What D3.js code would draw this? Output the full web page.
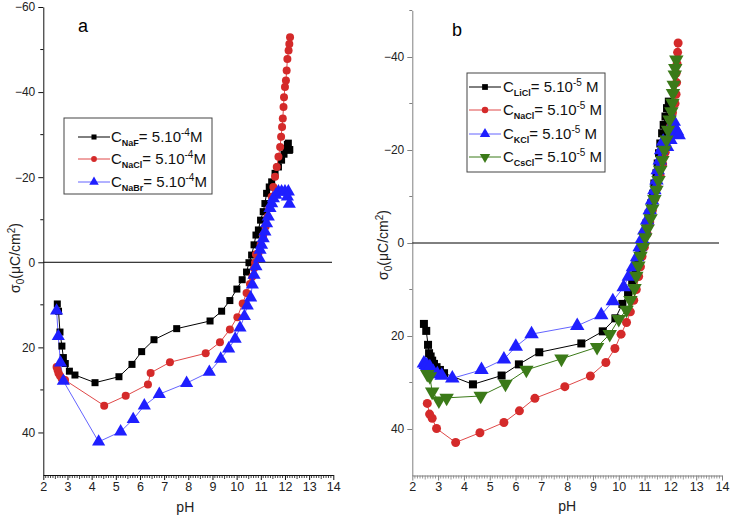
<!DOCTYPE html>
<html><head><meta charset="utf-8">
<script src="https://cdn.jsdelivr.net/npm/d3@7"></script>
<style>body{margin:0;background:#fff}svg{display:block}text{font-family:"Liberation Sans",Arial,sans-serif}</style>
</head><body><svg id="c" width="731" height="516"></svg>
<script>
// ---- Panel a data (pH, sigma0 in µC/cm², axis inverted) ----
const aNaF_pH = [2.58,2.63,2.69,2.77,2.83,2.91,3.08,3.31,4.14,5.13,5.67,6.07,6.58,7.52,8.90,9.38,9.72,10.01,10.23,10.41,10.51,10.62,10.72,10.80,10.90,10.99,11.10,11.17,11.24,11.35,11.45,11.59,11.73,11.86,11.96,12.04,12.10,12.18,12.14,12.20];
const aNaF_s  = [9.8,11.5,16.4,19.7,22.4,23.8,25.6,26.5,28.3,26.9,24.0,21.0,18.2,15.6,13.8,11.5,9.0,6.3,4.1,2.3,0.1,-1.7,-4.1,-6.4,-7.6,-9.9,-11.9,-13.8,-16.2,-17.7,-18.9,-20.9,-22.4,-24.0,-25.4,-26.7,-27.7,-26.3,-28.0,-26.5];
const aNaCl_pH = [2.55,2.59,2.63,2.69,2.76,2.90,4.52,5.41,6.33,6.44,7.24,8.72,9.31,9.72,10.03,10.25,10.41,10.55,10.65,10.72,10.76,10.80,10.90,10.99,11.10,11.20,11.28,11.35,11.45,11.52,11.59,11.66,11.73,11.80,11.84,11.88,11.91,11.94,11.96,12.00,12.04,12.07,12.10,12.15,12.18,12.21];
const aNaCl_s  = [24.6,25.3,26.1,26.7,27.3,27.7,33.7,31.4,28.7,26.0,23.5,21.4,18.8,15.8,12.9,9.7,7.2,5.1,3.4,1.4,0.1,-1.9,-2.1,-4.1,-6.4,-8.4,-10.7,-12.7,-15.4,-17.7,-20.1,-22.4,-24.8,-27.1,-29.5,-31.8,-33.8,-36.5,-38.8,-41.2,-42.7,-45.1,-47.8,-49.8,-51.3,-52.9];
const aNaBr_pH = [2.55,2.62,2.71,2.83,4.29,5.20,5.72,6.18,6.80,7.93,8.87,9.34,9.67,9.94,10.14,10.32,10.44,10.58,10.65,10.72,10.80,10.94,10.97,11.03,11.10,11.17,11.24,11.31,11.38,11.45,11.52,11.62,11.73,11.86,12.00,12.14,12.10,12.18];
const aNaBr_s  = [11.4,17.4,23.6,27.9,42.2,39.8,36.9,33.7,31.0,28.4,25.8,22.7,20.3,18.0,15.4,12.7,10.2,8.3,5.3,3.0,1.0,-0.9,-2.9,-4.1,-5.6,-7.2,-9.1,-10.7,-12.7,-13.8,-15.0,-15.8,-16.6,-16.6,-16.6,-16.6,-15.4,-13.7];

// ---- Panel b data ----
const bLiCl_pH = [2.45,2.54,2.61,2.65,2.71,2.77,2.84,2.94,3.07,3.23,4.35,5.46,6.13,6.92,8.55,9.38,9.87,10.14,10.36,10.52,10.65,10.74,10.81,10.90,10.99,11.07,11.16,11.25,11.33,11.38,11.46,11.51,11.56,11.61,11.68,11.74,11.81,11.87,11.94];
const bLiCl_s  = [17.4,18.9,21.9,23.7,24.4,25.3,26.0,26.7,27.3,28.0,30.4,28.5,26.1,23.5,21.6,19.0,16.2,13.1,10.8,8.5,6.2,4.0,1.9,0.1,-2.0,-4.2,-6.3,-8.5,-10.6,-12.8,-15.0,-17.1,-19.3,-21.4,-23.6,-25.4,-27.2,-29.0,-30.4];
const bNaCl_pH = [2.58,2.67,2.77,2.94,3.68,4.62,5.55,6.15,6.75,7.91,8.90,9.50,9.85,10.09,10.30,10.45,10.58,10.68,10.77,10.84,10.90,10.99,11.10,11.20,11.30,11.40,11.50,11.60,11.70,11.80,11.90,12.00,12.08,12.12,12.18,12.22,12.24,12.22,12.26,12.28,12.30];
const bNaCl_s  = [34.5,36.8,37.7,39.9,42.9,40.8,38.6,36.1,33.4,30.9,28.6,25.7,22.7,19.6,17.1,14.8,12.3,10.0,7.2,5.1,2.9,0.9,-2.0,-4.5,-7.0,-9.5,-12.0,-14.5,-17.0,-19.5,-22.0,-25.0,-28.0,-30.0,-30.0,-32.0,-34.5,-36.5,-38.5,-41.0,-43.0];
const bKCl_pH = [2.45,2.52,2.58,2.68,2.81,2.97,3.14,3.55,4.68,5.55,6.01,6.62,8.39,9.32,9.77,10.19,10.39,10.55,10.71,10.81,10.90,10.99,11.10,11.20,11.29,11.38,11.46,11.51,11.59,11.64,11.72,11.87,12.00,12.06,12.15,12.13,12.26,12.32];
const bKCl_s  = [25.9,26.2,26.4,26.7,27.7,28.2,28.5,29.1,27.3,25.0,22.3,19.6,17.8,15.5,12.5,9.5,7.2,5.2,3.0,0.9,-0.9,-2.7,-4.9,-7.1,-9.2,-11.4,-13.5,-15.7,-17.8,-20.0,-21.8,-20.7,-22.2,-23.6,-25.0,-26.1,-24.0,-23.2];
const bCsCl_pH = [2.58,2.68,2.77,3.03,3.33,4.65,5.61,6.42,7.78,9.16,9.65,10.00,10.30,10.45,10.61,10.68,10.76,10.84,10.94,11.03,11.12,11.23,11.30,11.38,11.46,11.54,11.61,11.69,11.77,11.85,11.91,11.97,12.04,12.08,12.10,12.13,12.17,12.19,12.23];
const bCsCl_s  = [28.2,28.7,32.0,33.9,33.3,32.9,30.3,27.3,24.9,22.4,19.6,16.4,14.4,12.3,9.7,7.1,4.9,2.8,0.9,-1.2,-3.1,-5.3,-7.4,-9.4,-11.4,-13.5,-15.7,-17.8,-20.0,-22.2,-24.3,-26.5,-28.3,-30.1,-32.2,-34.0,-36.2,-37.6,-39.4];

const xTicks = [2,3,4,5,6,7,8,9,10,11,12,13,14];
const aYTicks = [-60,-40,-20,0,20,40];
const bYTicks = [-40,-20,0,20,40];
const aLegend = [["NaF","=  5.10","-4","M"],["NaCl","= 5.10","-4","M"],["NaBr","= 5.10","-4","M"]];
const bLegend = [["LiCl","= 5.10","-5"," M"],["NaCl","= 5.10","-5"," M"],["KCl","= 5.10","-5"," M"],["CsCl","= 5.10","-5"," M"]];

const C = {black:"#000000", red:"#d42a2a", blue:"#1f1fff", green:"#3b7a18"};
const LC = {black:"#000000", red:"#e04848", blue:"#6464ff", green:"#3b7a18"};

const svg = d3.select("#c");

function zip(p,s){return p.map((v,i)=>({x:v,y:s[i]}));}

function marker(g, type, color, x, y, sz){
  if(type==="square"){
    g.append("rect").attr("x",x-sz/2).attr("y",y-sz/2).attr("width",sz).attr("height",sz).attr("fill",color);
  } else if(type==="circle"){
    g.append("circle").attr("cx",x).attr("cy",y).attr("r",sz/2).attr("fill",color);
  } else {
    const sym = d3.symbol().type(d3.symbolTriangle).size(sz*sz*0.75)();
    g.append("path").attr("d",sym).attr("fill",color)
      .attr("transform",`translate(${x},${y})${type==="down"?" rotate(180)":""}`);
  }
}

function panel(opt){
  const x = d3.scaleLinear().domain([2,14]).range([opt.x0,opt.x1]);
  const y = d3.scaleLinear().domain(opt.yDom).range([opt.y0,opt.y1]);
  const g = svg.append("g");
  const ac = opt.axisColor;
  // x minor ticks
  const minor = d3.range(20,141).map(v=>v/10).filter(v=>Math.abs(v-Math.round(v))>1e-6);
  minor.forEach(v=>{
    const half = Math.abs(v*2-Math.round(v*2))<1e-6;
    g.append("line").attr("x1",x(v)).attr("x2",x(v)).attr("y1",opt.y1).attr("y2",opt.y1+(half?4:3))
      .attr("stroke",ac).attr("stroke-width",0.8);
  });
  const xa = g.append("g").attr("transform",`translate(0,${opt.y1})`)
    .call(d3.axisBottom(x).tickValues(xTicks).tickSize(5).tickSizeOuter(0).tickPadding(2).tickFormat(d3.format("d")));
  xa.select(".domain").attr("stroke",ac);
  xa.selectAll(".tick line").attr("stroke",ac);
  xa.selectAll("text").attr("font-size",12.5).attr("fill","#222");
  // y minor
  opt.yMinor.forEach(v=>{
    g.append("line").attr("x1",opt.x0-3).attr("x2",opt.x0).attr("y1",y(v)).attr("y2",y(v)).attr("stroke",ac);
  });
  const ya = g.append("g").attr("transform",`translate(${opt.x0},0)`)
    .call(d3.axisLeft(y).tickValues(opt.yTicks).tickSize(5).tickSizeOuter(0).tickPadding(3).tickFormat(d3.format("d")));
  ya.select(".domain").attr("stroke",ac);
  ya.selectAll(".tick line").attr("stroke",ac);
  ya.selectAll("text").attr("font-size",12).attr("fill","#222");
  // zero line
  g.append("line").attr("x1",opt.x0).attr("x2",opt.zx).attr("y1",y(0)).attr("y2",y(0)).attr("stroke","#000").attr("stroke-width",1);
  // series
  const line = d3.line().x(d=>x(d.x)).y(d=>y(d.y));
  opt.series.forEach(s=>{
    const data = zip(s.pH,s.s);
    g.append("path").datum(data).attr("d",line).attr("fill","none").attr("stroke",LC[s.c]).attr("stroke-width",1);
  });
  opt.series.forEach(s=>{
    const mg = g.append("g");
    zip(s.pH,s.s).forEach(d=>marker(mg,s.m,C[s.c],x(d.x),y(d.y),s.sz));
  });
  // axis titles
  g.append("text").attr("x",(opt.x0+opt.x1)/2 - opt.phShift).attr("y",opt.phY).attr("text-anchor","middle").attr("font-size",14).attr("fill","#222").text("pH");
  const yl = g.append("text").attr("transform",`translate(${opt.ylx},${opt.yly}) rotate(-90)`).attr("text-anchor","middle").attr("font-size",14).attr("fill","#222");
  yl.append("tspan").text("σ");
  yl.append("tspan").attr("font-size",10).attr("dy",4).text("0");
  yl.append("tspan").attr("dy",-4).text("(μC/cm");
  yl.append("tspan").attr("font-size",10).attr("dy",-5).text("2");
  yl.append("tspan").attr("dy",5).text(")");
  // panel letter
  g.append("text").attr("x",opt.letter[0]).attr("y",opt.letter[1]).attr("font-size",18).attr("fill","#000").text(opt.letter[2]);
  // legend
  const L = opt.legend;
  g.append("rect").attr("x",L.x).attr("y",L.y).attr("width",L.w).attr("height",L.h).attr("fill","#fff").attr("stroke","#444").attr("stroke-width",1);
  opt.series.forEach((s,i)=>{
    const yy = L.rows[i];
    g.append("line").attr("x1",L.lx0).attr("x2",L.lx1).attr("y1",yy).attr("y2",yy).attr("stroke",LC[s.c]).attr("stroke-width",1);
    marker(g,s.m,C[s.c],(L.lx0+L.lx1)/2,yy,s.sz*0.72);
    const t = g.append("text").attr("x",L.tx).attr("y",yy+5).attr("font-size",15).attr("fill","#111");
    const e = L.labels[i];
    t.append("tspan").text("C");
    t.append("tspan").attr("font-size",9).attr("font-weight","bold").attr("dy",4).text(e[0]);
    t.append("tspan").attr("dy",-4).text(e[1]);
    t.append("tspan").attr("font-size",10).attr("dy",-6).text(e[2]);
    t.append("tspan").attr("dy",6).text(e[3]);
  });
}

panel({
  x0:43.3, x1:333.3, y0:7, y1:475, yDom:[-60,50], zx:332, axisColor:"#111",
  yTicks:aYTicks, yMinor:[-50,-30,-10,10,30],
  phY:512, phShift:3, ylx:20, yly:258, letter:[78,32,"a"],
  series:[
    {pH:aNaF_pH, s:aNaF_s, c:"black", m:"square", sz:7},
    {pH:aNaCl_pH, s:aNaCl_s, c:"red", m:"circle", sz:8},
    {pH:aNaBr_pH, s:aNaBr_s, c:"blue", m:"up", sz:10}
  ],
  legend:{x:64,y:118,w:148,h:76,rows:[137,159,182],lx0:78,lx1:110,tx:111,labels:aLegend}
});

panel({
  x0:412.3, x1:722, y0:10.5, y1:475.5, yDom:[-50,50], zx:719, axisColor:"#808080",
  yTicks:bYTicks, yMinor:[-50,-30,-10,10,30],
  phY:511, phShift:0, ylx:388, yly:245, letter:[452,36,"b"],
  series:[
    {pH:bLiCl_pH, s:bLiCl_s, c:"black", m:"square", sz:8},
    {pH:bNaCl_pH, s:bNaCl_s, c:"red", m:"circle", sz:9},
    {pH:bKCl_pH, s:bKCl_s, c:"blue", m:"up", sz:11},
    {pH:bCsCl_pH, s:bCsCl_s, c:"green", m:"down", sz:11}
  ],
  legend:{x:467,y:73,w:138,h:99,rows:[87,110,134,157],lx0:469,lx1:501,tx:503,labels:bLegend}
});
</script></body></html>
